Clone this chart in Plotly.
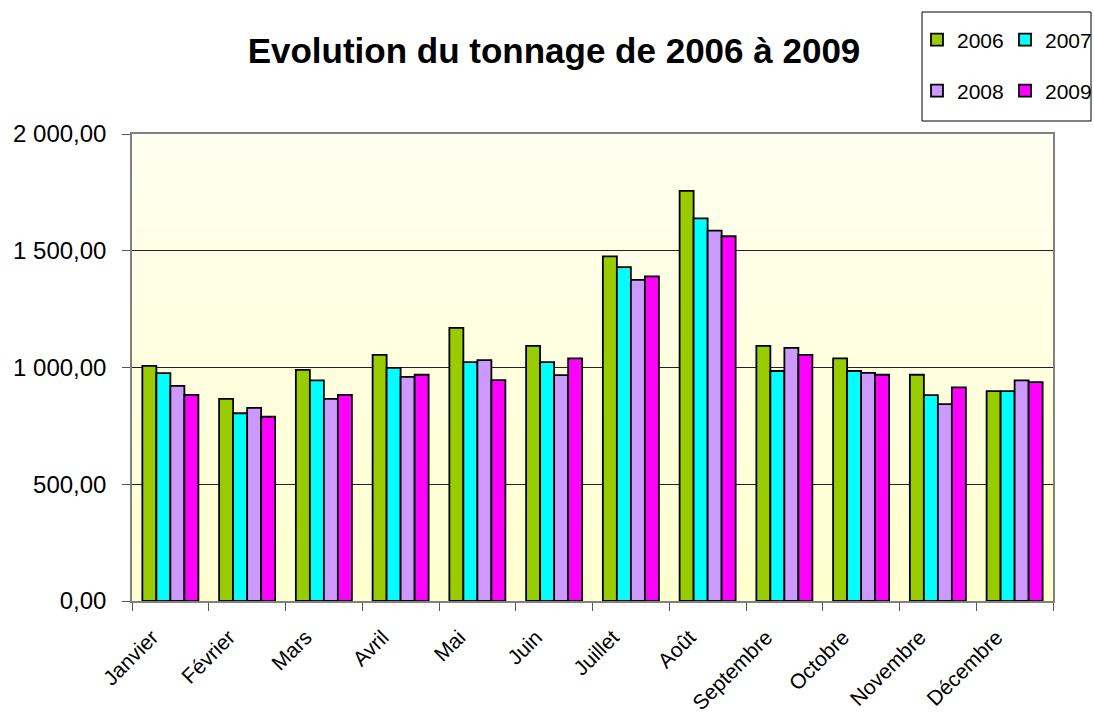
import plotly.graph_objects as go

mois = ["Janvier", "Février", "Mars", "Avril", "Mai", "Juin", "Juillet", "Août",
        "Septembre", "Octobre", "Novembre", "Décembre"]
t2006 = [1007, 866, 990, 1054, 1170, 1093, 1476, 1756, 1093, 1039, 969, 899]
t2007 = [976, 804, 945, 998, 1023, 1023, 1430, 1639, 985, 985, 882, 899]
t2008 = [921, 827, 866, 960, 1032, 967, 1375, 1586, 1084, 977, 843, 945]
t2009 = [883, 789, 883, 969, 946, 1039, 1390, 1562, 1054, 969, 915, 937]

series = [("2006", t2006, "#99CC00", "legend", 43),
          ("2007", t2007, "#00FFFF", "legend", 60),
          ("2008", t2008, "#CC99FF", "legend2", 43),
          ("2009", t2009, "#FF00FF", "legend2", 60)]

W, H = 1094, 726
L, R, T, B = 132, 41, 134, 125
PW, PH = W - L - R, H - T - B

fig = go.Figure()
for name, vals, col, lg, lw in series:
    fig.add_trace(go.Bar(x=mois, y=vals, name=name, legend=lg, legendwidth=lw,
                         marker=dict(color=col, line=dict(color="black", width=1.8))))

# gradient background stripes
n = 40
shapes = []
for i in range(n):
    f = i / (n - 1)
    b = int(208 + (240 - 208) * f)
    shapes.append(dict(type="rect", xref="x domain", yref="y domain",
                       x0=0, x1=1, y0=i / n, y1=(i + 1) / n + 0.001,
                       fillcolor=f"rgb(255,255,{b})", line=dict(width=0), layer="below"))
# legend box
shapes.append(dict(type="rect", xref="paper", yref="paper",
                   x0=(922 - L) / PW, x1=(1091 - L) / PW,
                   y0=(H - B - 121) / PH, y1=(H - B - 12) / PH,
                   line=dict(color="black", width=1), fillcolor="white", layer="above"))

leg_common = dict(orientation="h", xref="container", yref="container",
                  xanchor="left", yanchor="middle", bgcolor="rgba(0,0,0,0)",
                  font=dict(size=21), itemwidth=30, traceorder="normal",
                  entrywidthmode="pixels")

fig.update_layout(
    width=W, height=H,
    margin=dict(l=L, r=R, t=T, b=B, autoexpand=False),
    paper_bgcolor="white",
    plot_bgcolor="#FFFFE8",
    separators=", ",
    font=dict(family="Liberation Sans, Arial, sans-serif", color="black", size=20),
    title=dict(text="<b>Evolution du tonnage de 2006 à 2009</b>", x=554 / W, xanchor="center",
               y=1 - 51 / H, yanchor="middle", font=dict(size=35)),
    barmode="group", bargap=0.27, bargroupgap=0,
    shapes=shapes,
    legend=dict(x=917 / W, y=1 - 40 / H, **leg_common),
    legend2=dict(x=917 / W, y=1 - 91 / H, **leg_common),
    xaxis=dict(tickangle=-45, ticks="outside", tickson="boundaries", ticklen=8, tickcolor="#555",
               showline=True, linecolor="#808080", linewidth=1.5, mirror=True,
               showgrid=False, tickfont=dict(size=21),
               ticklabelstandoff=14, ticklabelshift=-18),
    yaxis=dict(range=[0, 2000], dtick=500, tickformat=",.2f", ticks="outside", ticklen=8,
               tickcolor="#555", showline=True, linecolor="#808080", linewidth=1.5, mirror=True,
               showgrid=True, gridcolor="#222", gridwidth=1, zeroline=False,
               tickfont=dict(size=24), ticklabelstandoff=11),
)

fig.write_html("out.html", config={"displayModeBar": False},
               post_script="document.body.style.margin='0';document.body.style.overflow='hidden';")
